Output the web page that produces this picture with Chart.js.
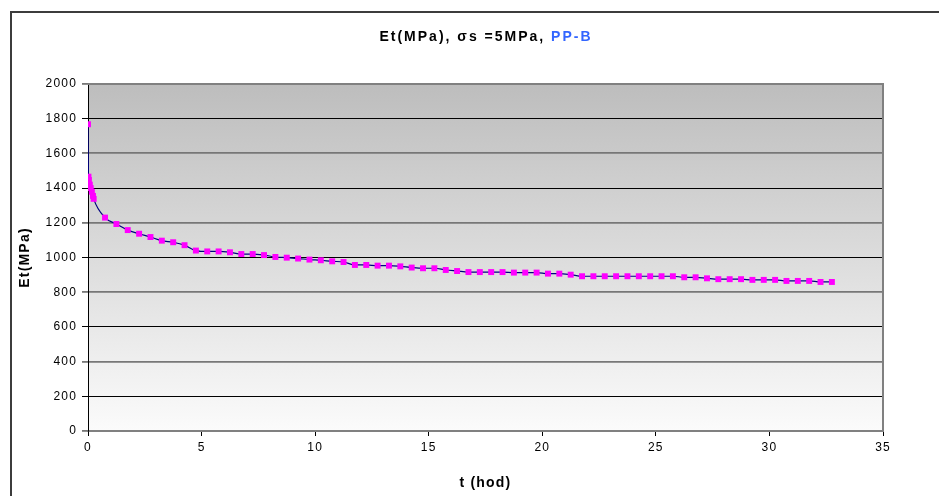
<!DOCTYPE html>
<html>
<head>
    <title>Et(MPa) creep</title>
    <script src="https://cdn.jsdelivr.net/npm/chart.js"></script>
    <style>
        body { margin: 0; background: #fff; font-family: 'Liberation Sans', Arial, sans-serif; }
        #wrap { width: 939px; height: 496px; position: relative; }
    </style>
</head>
<body>
<div id="wrap"><canvas id="etChart"></canvas></div>

<script>
// time in hours
const times = [0, 0.02, 0.04, 0.08, 0.12, 0.17, 0.22, 0.25,
    0.75, 1.25, 1.75, 2.25, 2.75, 3.25, 3.75, 4.25, 4.75, 5.25,
    5.75, 6.25, 6.75, 7.25, 7.75, 8.25, 8.75, 9.25, 9.75, 10.25,
    10.75, 11.25, 11.75, 12.25, 12.75, 13.25, 13.75, 14.25, 14.75, 15.25,
    15.75, 16.25, 16.75, 17.25, 17.75, 18.25, 18.75, 19.25, 19.75, 20.25,
    20.75, 21.25, 21.75, 22.25, 22.75, 23.25, 23.75, 24.25, 24.75, 25.25,
    25.75, 26.25, 26.75, 27.25, 27.75, 28.25, 28.75, 29.25, 29.75, 30.25,
    30.75, 31.25, 31.75, 32.25, 32.75];
// Et in MPa
const etValues = [1768, 1466, 1447, 1420, 1400, 1379, 1355, 1338,
    1230, 1193, 1158, 1137, 1118, 1097, 1088, 1071, 1040, 1035,
    1035, 1030, 1020, 1020, 1014, 1003, 999, 994, 988, 984,
    978, 974, 957, 957, 953, 953, 949, 942, 938, 938,
    928, 922, 916, 916, 916, 916, 913, 913, 913, 907,
    907, 901, 892, 892, 892, 892, 892, 892, 892, 892,
    892, 886, 886, 880, 875, 875, 875, 871, 871, 871,
    865, 865, 865, 859, 859];
const yTicks = [0, 200, 400, 600, 800, 1000, 1200, 1400, 1600, 1800, 2000];
const xTicks = [0, 5, 10, 15, 20, 25, 30, 35];

const titleMain = 'Et(MPa), \u03C3s =5MPa, ';
const titleSub = 'PP-B';

const points = times.map((t, i) => ({ x: t, y: etValues[i] }));
const fontFam = '"Liberation Sans", Arial, sans-serif';

const decorPlugin = {
    id: 'decor',
    beforeDraw(chart) {
        const ctx = chart.ctx;
        const a = chart.chartArea;
        ctx.save();
        const g = ctx.createLinearGradient(0, a.top, 0, a.bottom);
        g.addColorStop(0, '#bdbdbd');
        g.addColorStop(1, '#fbfbfb');
        ctx.fillStyle = g;
        ctx.fillRect(a.left, a.top, a.right - a.left, a.bottom - a.top);
        // outer frame
        ctx.strokeStyle = '#3c3c3c';
        ctx.lineWidth = 2;
        ctx.beginPath();
        ctx.moveTo(11, 496);
        ctx.lineTo(11, 12);
        ctx.lineTo(939, 12);
        ctx.stroke();
        // title
        ctx.font = 'bold 14px ' + fontFam;
        ctx.letterSpacing = '2px';
        ctx.textBaseline = 'middle';
        const w1 = ctx.measureText(titleMain).width;
        const w2 = ctx.measureText(titleSub).width;
        let x = 486 - (w1 + w2) / 2;
        ctx.fillStyle = '#000';
        ctx.fillText(titleMain, x, 37);
        ctx.fillStyle = '#3366ff';
        ctx.fillText(titleSub, x + w1, 37);
        ctx.restore();
        // the old chart font renders wider, so space the axis text a bit
        ctx.letterSpacing = '1.2px';
    },
    afterDatasetsDraw(chart) {
        const ctx = chart.ctx;
        const a = chart.chartArea;
        ctx.save();
        ctx.strokeStyle = '#808080';
        ctx.lineWidth = 2;
        ctx.beginPath();
        ctx.moveTo(a.left, a.top);
        ctx.lineTo(a.right, a.top);
        ctx.lineTo(a.right, a.bottom);
        ctx.stroke();
        ctx.restore();
    }
};

new Chart(document.getElementById('etChart'), {
    type: 'scatter',
    data: {
        datasets: [{
            data: points,
            showLine: true,
            borderColor: '#000080',
            borderWidth: 1.2,
            tension: 0.4,
            cubicInterpolationMode: 'monotone',
            pointStyle: 'rect',
            pointRadius: 4.2,
            pointHoverRadius: 4.2,
            pointBorderWidth: 0,
            pointBackgroundColor: '#ff00ff',
            pointBorderColor: '#ff00ff'
        }]
    },
    options: {
        responsive: true,
        maintainAspectRatio: false,
        animation: false,
        layout: { padding: { top: 84, right: 56, left: 0, bottom: 0 } },
        plugins: {
            legend: { display: false },
            tooltip: { enabled: false },
            title: { display: false }
        },
        scales: {
            x: {
                type: 'linear',
                min: 0,
                max: 35,
                afterBuildTicks: s => { s.ticks = xTicks.map(v => ({ value: v })); },
                afterFit: s => { s.height = 65; },
                grid: {
                    drawOnChartArea: false,
                    drawTicks: true,
                    tickLength: 5,
                    color: '#000'
                },
                border: { color: '#808080', width: 2 },
                ticks: { color: '#000', padding: 4, callback: v => String(v), font: { size: 12, family: fontFam } },
                title: {
                    display: true,
                    text: 't (hod)',
                    color: '#000',
                    padding: { top: 9 },
                    font: { size: 14, weight: 'bold', family: fontFam }
                }
            },
            y: {
                min: 0,
                max: 2000,
                afterBuildTicks: s => { s.ticks = yTicks.map(v => ({ value: v })); },
                afterFit: s => { s.width = 88; },
                grid: {
                    tickLength: 6,
                    color: ctx => (ctx.tick && (ctx.tick.value / 200) % 2 === 0) ? '#777' : '#000',
                    lineWidth: ctx => (ctx.tick && (ctx.tick.value / 200) % 2 === 0) ? 1.8 : 1
                },
                border: { color: '#000', width: 1 },
                ticks: { color: '#000', padding: 5, callback: v => String(v), font: { size: 12, family: fontFam } },
                title: {
                    display: true,
                    text: 'Et(MPa)',
                    color: '#000',
                    padding: { top: 17, bottom: 0 },
                    font: { size: 14, weight: 'bold', family: fontFam }
                }
            }
        }
    },
    plugins: [decorPlugin]
});
</script>
</body>
</html>
